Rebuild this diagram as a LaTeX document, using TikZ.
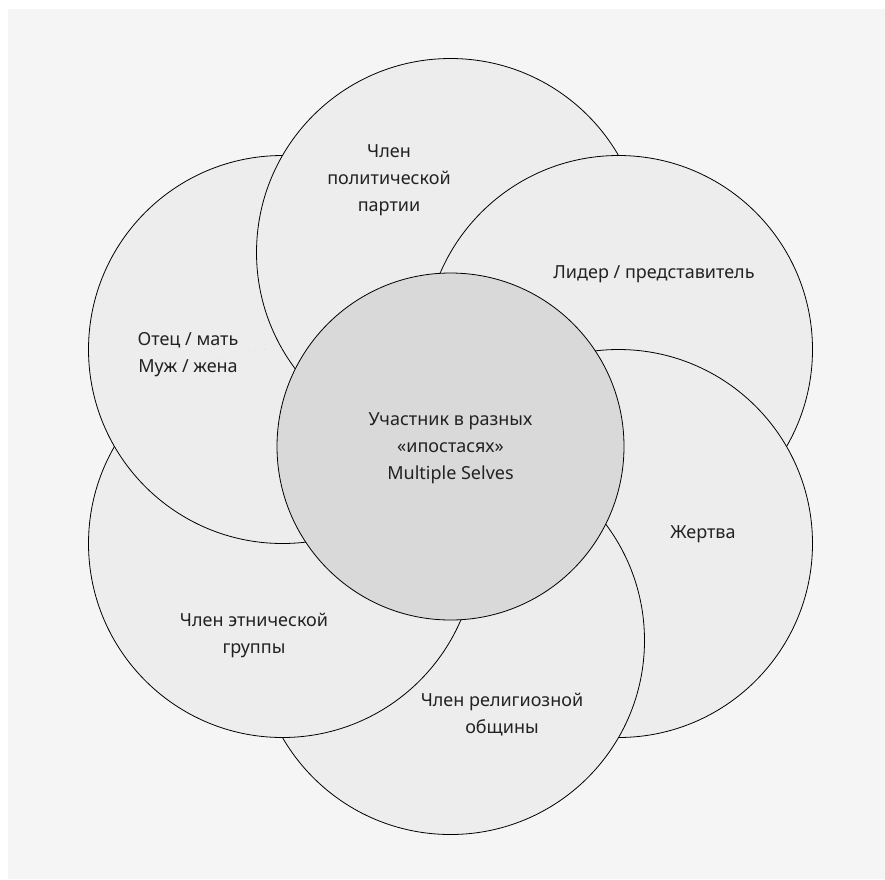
\documentclass[tikz,border=0pt]{standalone}
\usepackage{fontspec}
\setmainfont{Noto Sans}
\usepackage{tikz}
\definecolor{pagebg}{HTML}{F5F5F5}
\definecolor{rolefill}{HTML}{EDEDED}
\definecolor{corefill}{HTML}{D9D9D9}
\definecolor{inktext}{HTML}{222222}

\begin{document}
\begin{tikzpicture}[x=1pt, y=-1pt,
    role/.style={circle, draw, line width=0.8pt, fill=rolefill, minimum size=388pt, inner sep=0pt},
    core/.style={circle, draw, line width=0.8pt, fill=corefill, minimum size=347pt, inner sep=0pt},
    tag/.style={align=center, text=inktext, font=\fontsize{18}{27}\selectfont}]
  \useasboundingbox (0,0) rectangle (885,879);
  \fill[pagebg] (8,9) rectangle (885,879);

  % the six roles, each one lying over the one before
  \foreach \n/\x/\y in {parent/282.5/349.5, party/450.5/252.5, leader/618.5/349.5,
                        victim/618.5/543.5, faith/450.5/640.5, ethnos/282.5/543.5}
    \node (\n) [role] at (\x,\y) {};
  % close the ring: parent (and party) lie over ethnos
  \begin{scope}
    \clip (ethnos.center) circle (195pt);
    \node [role] at (parent.center) {};
    \node [role] at (party.center) {};
  \end{scope}

  \node (self) [core] at (450.5,446.5) {};

  \node (partytext) [tag] at (389,180) {Член\\политической\\партии};
  \node (leadertext) [tag] at (654,274) {Лидер / представитель};
  \node (parenttext) [tag] at (188,355) {Отец / мать\\Муж / жена};
  \node (selftext) [tag] at (450.5,448) {Участник в разных\\«ипостасях»\\Multiple Selves};
  \node (victimtext) [tag] at (703,534) {Жертва};
  \node (ethnostext) [tag] at (254,635.5) {Член этнической\\группы};
  \node (faithtext) [tag] at (502,714.5) {Член религиозной\\общины};
\end{tikzpicture}
\end{document}
